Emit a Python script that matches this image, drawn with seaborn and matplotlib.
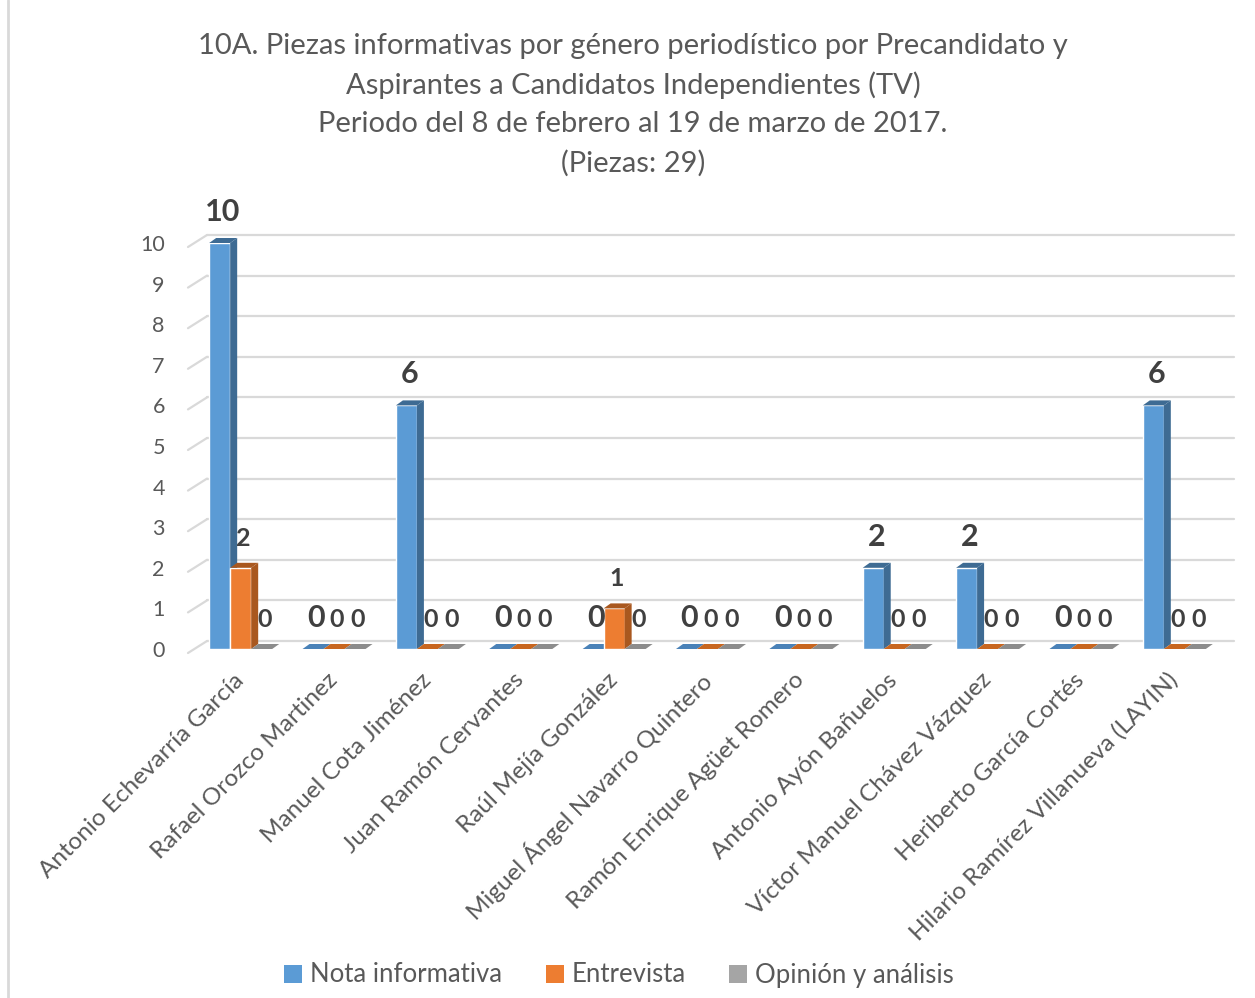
import numpy as np
import pandas as pd
import matplotlib.pyplot as plt
import seaborn as sns
from matplotlib.patches import Polygon, Patch
from matplotlib.lines import Line2D
from matplotlib.transforms import IdentityTransform, offset_copy, blended_transform_factory

candidatos = ["Antonio Echevarría García", "Rafael Orozco Martinez", "Manuel Cota Jiménez",
              "Juan Ramón Cervantes", "Raúl Mejía González", "Miguel Ángel Navarro Quintero",
              "Ramón Enrique Agüet Romero", "Antonio Ayón Bañuelos", "Víctor Manuel Chávez Vázquez",
              "Heriberto García Cortés", "Hilario Ramírez Villanueva (LAYIN)"]
nota_informativa = [10, 0, 6, 0, 0, 0, 0, 2, 2, 0, 6]
entrevista = [2, 0, 0, 0, 1, 0, 0, 0, 0, 0, 0]
opinion_analisis = [0, 0, 0, 0, 0, 0, 0, 0, 0, 0, 0]
generos = ["Nota informativa", "Entrevista", "Opinión y análisis"]
y_ticks = list(range(0, 11))

titulo = ["10A. Piezas informativas por género periodístico por Precandidato y",
          "Aspirantes a Candidatos Independientes (TV)",
          "Periodo del 8 de febrero al 19 de marzo de 2017.",
          "(Piezas: 29)"]

colores = ["#5B9BD5", "#ED7D31", "#A5A5A5"]
lados = ["#3E6B93", "#A9581F", "#7A7A7A"]
techos = ["#4A82B8", "#C8661F", "#8C8C8C"]
gris_texto = "#595959"

df = pd.DataFrame({
    "candidato": candidatos * 3,
    "genero": [generos[0]] * 11 + [generos[1]] * 11 + [generos[2]] * 11,
    "piezas": nota_informativa + entrevista + opinion_analisis,
})

sns.set_theme(style="white")
plt.rcParams["font.family"] = ["Lato", "DejaVu Sans"]

W, H = 1255, 998
fig = plt.figure(figsize=(W / 100, H / 100), dpi=100)
ax = fig.add_axes([194 / W, 1 - 649 / H, 1027 / W, 406 / H])

sns.barplot(data=df, x="candidato", y="piezas", hue="genero", palette=colores,
            saturation=1, width=0.675, gap=0, errorbar=None, legend=False, ax=ax)
ax.set_ylim(0, 10)
ax.set_xlim(-0.5, 10.5)
for s in ax.spines.values():
    s.set_visible(False)
ax.set_xlabel("")
ax.set_ylabel("")

# cuadricula en el plano trasero
blend = blended_transform_factory(ax.transAxes, ax.transData)
back = offset_copy(blend, fig=fig, x=13, y=8, units="dots")
for v in y_ticks:
    ax.plot([0, 1], [v, v], transform=back, color="#D9D9D9", lw=1.6, zorder=0, clip_on=False)
    X, Y = blend.transform((0, v))
    fig.add_artist(Line2D([X - 6, X + 13], [Y - 4, Y + 8], transform=IdentityTransform(),
                          color="#D9D9D9", lw=1.6))

# caras 3D de las barras
n = len(candidatos)
for i, p in enumerate(ax.patches[:3 * n]):
    k = i // n
    p.set_zorder(2 + k)
    x0, w, h = p.get_x(), p.get_width(), p.get_height()
    X0, Y0 = ax.transData.transform((x0, 0))
    X1, Y1 = ax.transData.transform((x0 + w, h))
    dx, dy = 7, 5
    top = Polygon([(X0, Y1), (X1, Y1), (X1 + dx, Y1 + dy), (X0 + dx, Y1 + dy)],
                  closed=True, transform=IdentityTransform(), facecolor=techos[k] if h == 0 else lados[k],
                  edgecolor="none", zorder=2 + k, clip_on=False)
    ax.add_patch(top)
    if h > 0:
        side = Polygon([(X1, Y0), (X1 + dx, Y0 + dy), (X1 + dx, Y1 + dy), (X1, Y1)],
                       closed=True, transform=IdentityTransform(), facecolor=lados[k],
                       edgecolor="none", zorder=2 + k, clip_on=False)
        ax.add_patch(side)

# etiquetas de datos
lab = offset_copy(ax.transData, fig=fig, x=3, y=22, units="dots")
series = [nota_informativa, entrevista, opinion_analisis]
for i, p in enumerate(ax.patches[:3 * n]):
    k = i // n
    v = series[k][i % n]
    ax.text(p.get_x() + p.get_width() / 2, v, str(v), transform=lab, ha="center", va="baseline",
            fontsize=22 if k == 0 else 18, fontweight="bold", color="#404040", zorder=10, clip_on=False)

ax.set_yticks(y_ticks)
ax.tick_params(axis="y", length=0, pad=21, labelsize=15.5, labelcolor=gris_texto)
ax.set_xticks(range(n))
ax.set_xticklabels(candidatos, rotation=45, ha="right", rotation_mode="anchor", va="center")
ax.tick_params(axis="x", length=0, pad=20, labelsize=17.5, labelcolor=gris_texto)

for j, linea in enumerate(titulo):
    fig.text(633 / W, 1 - (46 + 39 * j) / H, linea, ha="center", va="center", fontsize=21,
             color=gris_texto)

handles = [Patch(facecolor=c, edgecolor="none") for c in colores]
fig.legend(handles, generos, loc="center", bbox_to_anchor=(619 / W, 1 - 975 / H), ncol=3,
           frameon=False, fontsize=18.5, handlelength=0.7, handleheight=0.7, handletextpad=0.3,
           columnspacing=1.7, labelcolor=gris_texto)

fig.add_artist(Line2D([8, 8], [0, H], transform=IdentityTransform(), color="#D9D9D9", lw=2))

fig.savefig("out.png", dpi=100)
